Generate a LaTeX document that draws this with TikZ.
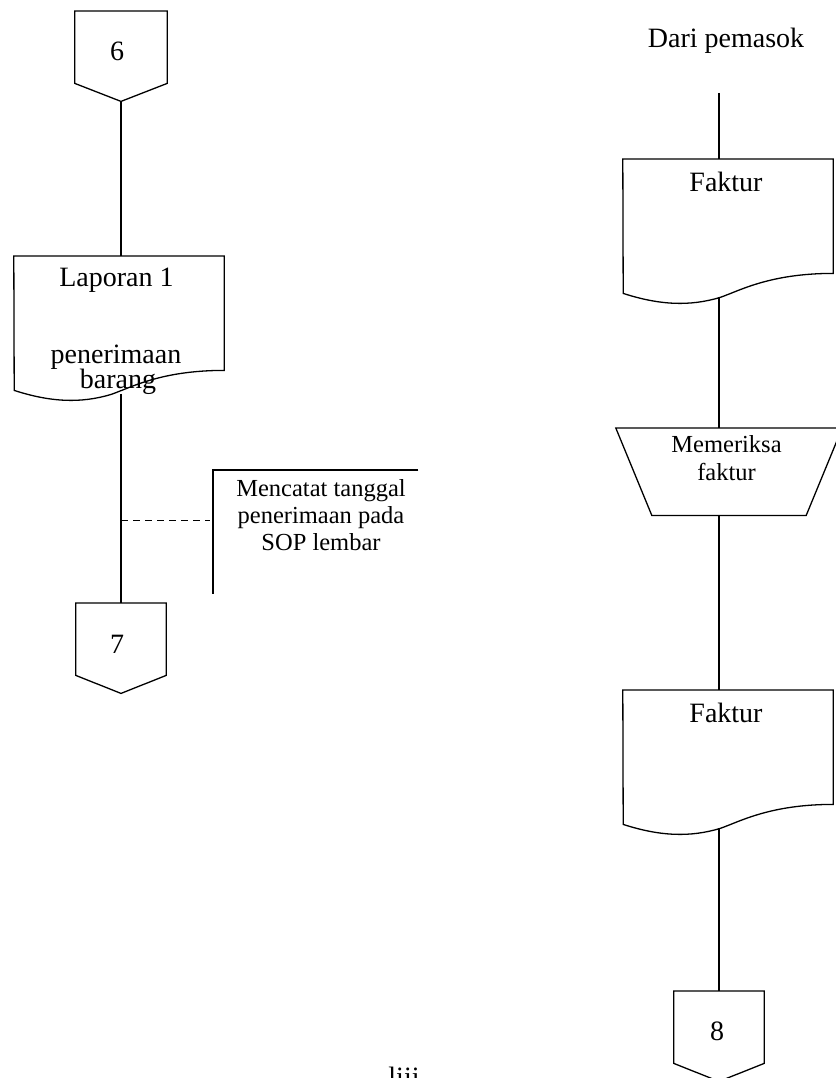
\documentclass[tikz,border=0pt]{standalone}
\usepackage{fontspec}
\setmainfont{Liberation Serif}
% document symbol: flat top, wavy bottom edge
\newcommand\docoutline[1]{%
  \draw[line] (#1.north west) -- (#1.north east) -- (#1.south east)
    .. controls ([shift={(-63,0)}]#1.south east) and ([shift={(-93,17)}]#1.south east) .. ([shift={(-113,24)}]#1.south east)
    .. controls ([shift={(-143,33)}]#1.south east) and ([shift={(-173,32)}]#1.south east) .. ([shift={(-210,20)}]#1.south east)
    -- cycle;
  \coordinate (#1-out) at ([shift={(-110,23.5)}]#1.south east);}
% off-page connector: box with a pointed bottom
\newcommand\offoutline[1]{%
  \coordinate (#1-tip) at ([shift={(0,18)}]#1.south);
  \draw[line] (#1.north west) -- (#1.north east) -- (#1.south east) -- (#1-tip) -- (#1.south west) -- cycle;}
\begin{document}
\begin{tikzpicture}[x=1pt,y=-1pt,
  line/.style={line width=1.3pt, line join=miter},
  big/.style={font=\fontsize{28}{30}\selectfont, inner sep=0pt, anchor=base},
  small/.style={font=\fontsize{24.5}{27}\selectfont, inner sep=0pt, anchor=base},
  docbody/.style={minimum width=210pt, minimum height=114pt, inner sep=0pt, anchor=north},
  offbody/.style={minimum width=90pt, minimum height=72pt, inner sep=0pt, anchor=north},
]
\useasboundingbox (0,0) rectangle (835,1078);

% ---------------- left column ----------------
\node[offbody, minimum width=92pt] (c6) at (121,11) {};
\offoutline{c6}
\node[big] (t6) at (117,61) {6};

\node[docbody] (lap) at (119,256) {};
\docoutline{lap}
\node[big] (lap1) at (116.5,286) {Laporan 1};
\node[big] (lap2) at (116,363) {penerimaan};
\node[big] (lap3) at (118,388) {barang};

\node[offbody] (c7) at (121,603) {};
\offoutline{c7}
\node[big] (t7) at (117,653) {7};

\draw[line] (c6-tip) -- (c6-tip |- lap.north);
\draw[line] (c6-tip |- lap-out) -- (c6-tip |- c7.north);

% annotation
\node[minimum width=205pt, minimum height=124pt, inner sep=0pt, anchor=north west] (ann) at (213,470) {};
\draw[line] (ann.north east) -- (ann.north west) -- (ann.south west);
\coordinate (ann-in) at ([shift={(-3,-12)}]ann.west);
\draw[line, dash pattern=on 7pt off 5pt] (c6-tip |- ann-in) -- (ann-in);
\node[small] (a1) at (321,496) {Mencatat tanggal};
\node[small] (a2) at (321,523) {penerimaan pada};
\node[small] (a3) at (321,550) {SOP lembar};

% ---------------- right column ----------------
\node[big] (src) at (726,48) {Dari pemasok};
\coordinate (src-end) at (719,93);

\node[docbody] (f1) at (728,159) {};
\docoutline{f1}
\node[big] (f1t) at (726,191) {Faktur};

\node[minimum width=226pt, minimum height=87pt, inner sep=0pt, anchor=north] (chk) at (729,428) {};
\draw[line] (chk.north west) -- (chk.north east) -- ([shift={(-36,0)}]chk.south east) -- ([shift={(36,0)}]chk.south west) -- cycle;
\node[small] (chk1) at (726.5,452) {Memeriksa};
\node[small] (chk2) at (726.5,480) {faktur};

\node[docbody] (f2) at (728,690) {};
\docoutline{f2}
\node[big] (f2t) at (726,722) {Faktur};

\node[offbody] (c8) at (719,991) {};
\offoutline{c8}
\node[big] (t8) at (717,1040) {8};

\draw[line] (src-end) -- (src-end |- f1.north);
\draw[line] (src-end |- f1-out) -- (src-end |- chk.north);
\draw[line] (src-end |- chk.south) -- (src-end |- f2.north);
\draw[line] (src-end |- f2-out) -- (src-end |- c8.north);

% page number
\node[big] (pg) at (404,1086) {liii};
\end{tikzpicture}
\end{document}
